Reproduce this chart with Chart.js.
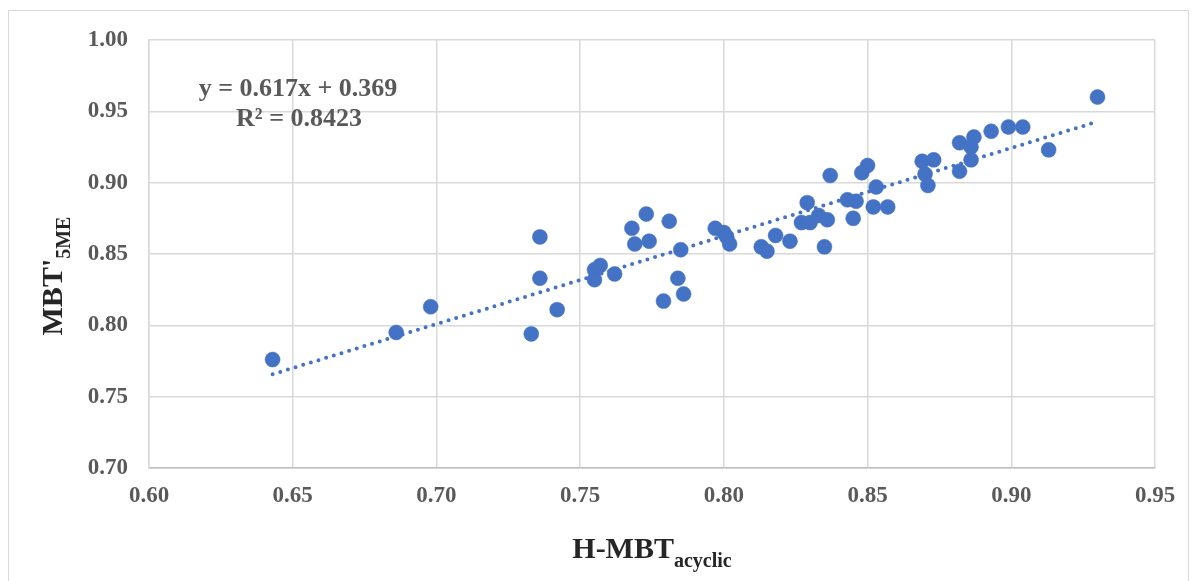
<!DOCTYPE html>
<html>
<head>
<meta charset="utf-8">
<script src="https://cdn.jsdelivr.net/npm/chart.js@4"></script>
<style>
  body { margin: 0; background: #fff; }
  #wrap { position: relative; width: 1196px; height: 581px; }
</style>
</head>
<body>
<div id="wrap"><canvas id="myChart" width="1196" height="581"></canvas></div>
<script>
// H-MBT acyclic values (x) and MBT'5ME values (y)
const hmbt = [0.643, 0.686, 0.698, 0.733, 0.742, 0.736, 0.736, 0.755, 0.757, 0.755,
    0.762, 0.768, 0.773, 0.769, 0.774, 0.781, 0.785, 0.784, 0.786, 0.779,
    0.797, 0.800, 0.801, 0.802, 0.813, 0.815, 0.818, 0.823, 0.829, 0.827,
    0.830, 0.833, 0.836, 0.835, 0.837, 0.843, 0.846, 0.845, 0.848, 0.850,
    0.853, 0.852, 0.857, 0.869, 0.873, 0.870, 0.871, 0.882, 0.887, 0.886,
    0.886, 0.882, 0.893, 0.899, 0.904, 0.913, 0.930];
const mbt5me = [0.776, 0.795, 0.813, 0.794, 0.811, 0.862, 0.833, 0.839, 0.842, 0.832,
    0.836, 0.868, 0.878, 0.857, 0.859, 0.873, 0.853, 0.833, 0.822, 0.817,
    0.868, 0.865, 0.862, 0.857, 0.855, 0.852, 0.863, 0.859, 0.886, 0.872,
    0.872, 0.877, 0.874, 0.855, 0.905, 0.888, 0.887, 0.875, 0.907, 0.912,
    0.897, 0.883, 0.883, 0.915, 0.916, 0.906, 0.898, 0.928, 0.932, 0.925,
    0.916, 0.908, 0.936, 0.939, 0.939, 0.923, 0.960];

// linear trendline as printed on the chart
const slope = 0.617;
const intercept = 0.369;
const r2 = '0.8423';

const xTicks = [0.60, 0.65, 0.70, 0.75, 0.80, 0.85, 0.90, 0.95];
const yTicks = [0.70, 0.75, 0.80, 0.85, 0.90, 0.95, 1.00];

const blue = '#4472C4';
const serif = "'Liberation Serif', 'Times New Roman', serif";

const points = hmbt.map((x, i) => ({x: x, y: mbt5me[i]}));
const xMin = Math.min(...hmbt), xMax = Math.max(...hmbt);
const trend = [xMin, xMax].map(x => ({x: x, y: slope * x + intercept}));

// draw a title with a subscript part, optionally rotated
function subTitle(ctx, main, sub, x, y, rot, size, subSize, drop) {
    ctx.save();
    ctx.translate(x, y);
    ctx.rotate(rot);
    ctx.fillStyle = '#262626';
    ctx.textBaseline = 'alphabetic';
    ctx.textAlign = 'left';
    ctx.font = 'bold ' + size + 'px ' + serif;
    const w1 = ctx.measureText(main).width;
    ctx.font = 'bold ' + subSize + 'px ' + serif;
    const w2 = ctx.measureText(sub).width;
    const start = -(w1 + w2) / 2;
    ctx.font = 'bold ' + size + 'px ' + serif;
    ctx.fillText(main, start, 0);
    ctx.font = 'bold ' + subSize + 'px ' + serif;
    ctx.fillText(sub, start + w1, drop);
    ctx.restore();
}

const extras = {
    id: 'extras',
    afterDraw(chart) {
        const ctx = chart.ctx;
        const area = chart.chartArea;
        // outer frame
        ctx.save();
        ctx.strokeStyle = '#d9d9d9';
        ctx.lineWidth = 1;
        ctx.strokeRect(8.5, 10.5, 1180, 600);
        ctx.restore();
        // axis titles
        subTitle(ctx, 'H-MBT', 'acyclic', (area.left + area.right) / 2, 558, 0, 30, 20, 9);
        subTitle(ctx, "MBT'", '5ME', 62, 276, -Math.PI / 2, 30, 20, 8);
        // trendline equation
        ctx.save();
        ctx.fillStyle = '#595959';
        ctx.font = 'bold 26px ' + serif;
        ctx.textAlign = 'center';
        ctx.textBaseline = 'alphabetic';
        ctx.fillText('y = ' + slope.toFixed(3) + 'x + ' + intercept.toFixed(3), 298, 96);
        ctx.fillText('R² = ' + r2, 299, 126);
        ctx.restore();
    }
};

const ctx = document.getElementById('myChart').getContext('2d');
const myChart = new Chart(ctx, {
    data: {
        datasets: [{
            type: 'line',
            label: 'Linear',
            data: trend,
            borderColor: blue,
            borderWidth: 4,
            borderDash: [0, 8],
            borderCapStyle: 'round',
            pointRadius: 0,
            fill: false,
            order: 0
        },
        {
            type: 'scatter',
            label: 'Samples',
            data: points,
            backgroundColor: blue,
            borderColor: blue,
            borderWidth: 0.5,
            pointRadius: 7.5,
            pointHoverRadius: 7.5,
            order: 1
        }]
    },
    options: {
        responsive: false,
        animation: false,
        layout: {
            padding: {top: 40, right: 41, left: 0, bottom: 0}
        },
        plugins: {
            legend: {display: false},
            tooltip: {enabled: false}
        },
        scales: {
            x: {
                type: 'linear',
                min: 0.60,
                max: 0.95,
                afterFit: (scale) => { scale.height = 113; },
                afterBuildTicks: (scale) => { scale.ticks = xTicks.map(v => ({value: v})); },
                grid: {color: '#d9d9d9', lineWidth: 1.5, drawTicks: false},
                border: {color: '#bfbfbf', width: 1.5},
                ticks: {
                    padding: 14,
                    color: '#595959',
                    font: {family: serif, size: 23, weight: 'bold'},
                    callback: v => v.toFixed(2)
                }
            },
            y: {
                type: 'linear',
                min: 0.70,
                max: 1.00,
                afterFit: (scale) => { scale.width = 149; },
                afterBuildTicks: (scale) => { scale.ticks = yTicks.map(v => ({value: v})); },
                grid: {color: '#d9d9d9', lineWidth: 1.5, drawTicks: false},
                border: {color: '#d9d9d9', width: 1.5},
                ticks: {
                    padding: 21,
                    color: '#595959',
                    font: {family: serif, size: 23, weight: 'bold'},
                    callback: v => v.toFixed(2)
                }
            }
        }
    },
    plugins: [extras]
});
</script>
</body>
</html>
